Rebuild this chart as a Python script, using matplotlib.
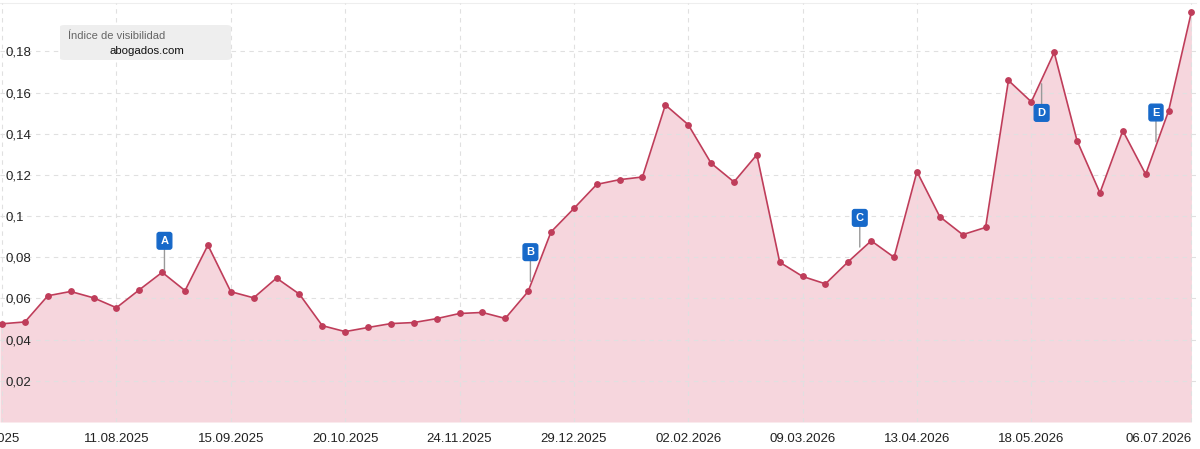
import matplotlib.pyplot as plt
import matplotlib.dates as mdates
from matplotlib.patches import FancyBboxPatch
from matplotlib.transforms import ScaledTranslation
import numpy as np
import datetime as dt

# Índice de visibilidad semanal, abogados.com
inicio = dt.date(2025, 7, 7)
fechas = [inicio + dt.timedelta(weeks=i) for i in range(53)]
valores = [0.0477, 0.0486, 0.0613, 0.0634, 0.0603, 0.0555, 0.0642, 0.0727, 0.0638, 0.0859,
           0.0633, 0.0603, 0.0699, 0.0621, 0.0468, 0.0439, 0.0459, 0.0478, 0.0483, 0.0502,
           0.0527, 0.0532, 0.0503, 0.0634, 0.0923, 0.1037, 0.1154, 0.1177, 0.1190, 0.1540,
           0.1444, 0.1257, 0.1166, 0.1298, 0.0776, 0.0707, 0.0671, 0.0779, 0.0880, 0.0800,
           0.1216, 0.0997, 0.0910, 0.0945, 0.1659, 0.1555, 0.1795, 0.1366, 0.1113, 0.1415,
           0.1203, 0.1510, 0.1992]

# eventos (letra, semana, arriba/abajo)
eventos = [('A', 7.1, 1), ('B', 23.1, 1), ('C', 37.5, 1), ('D', 45.45, -1), ('E', 50.45, 1)]

ticks_x = ['07.07.2025', '11.08.2025', '15.09.2025', '20.10.2025', '24.11.2025', '29.12.2025',
           '02.02.2026', '09.03.2026', '13.04.2026', '18.05.2026', '06.07.2026']
ticks_y = [0.02, 0.04, 0.06, 0.08, 0.1, 0.12, 0.14, 0.16, 0.18]

rojo = '#bf3d5a'
rosa = '#f6d6dd'
azul = '#1769c9'

plt.rcParams['font.family'] = ['Liberation Sans', 'DejaVu Sans']

fig = plt.figure(figsize=(12, 4.49), dpi=100)
ax = fig.add_axes([0, 27 / 449, 1196 / 1200, (449 - 30) / 449])

x = mdates.date2num(fechas)
paso = x[1] - x[0]
# el área arranca en el borde izquierdo
xa = np.concatenate([[x[0] - 0.09 * paso], x])
va = np.concatenate([[valores[0]], valores])
ax.fill_between(xa, va, 0, color=rosa, lw=0, zorder=1)
ax.plot(x, valores, color=rojo, lw=1.2, marker='o', ms=3.9, zorder=3)

ax.set_xlim(x[0] - 0.09 * paso, x[-1] + 0.2 * paso)
ax.set_ylim(0, 0.2035)

# eventos
for letra, semana, lado in eventos:
    xe = x[0] + semana * paso
    ye = np.interp(xe, x, valores)
    off = 24 if lado > 0 else -24
    ax.annotate(letra, (xe, ye), xytext=(0, off), textcoords='offset points',
                ha='center', va='center', color='white', fontsize=8, fontweight='bold',
                bbox=dict(boxstyle='round,pad=0.3,rounding_size=0.2', fc=azul, ec=azul),
                arrowprops=dict(arrowstyle='-', color='#999999', lw=1, shrinkA=0, shrinkB=3),
                zorder=5)

# ejes
xt = [mdates.date2num(dt.datetime.strptime(t, '%d.%m.%Y')) for t in ticks_x]
ax.set_xticks(xt)
ax.set_xticklabels(ticks_x)
ax.set_yticks(ticks_y)
ax.set_yticklabels([('%g' % v).replace('.', ',') for v in ticks_y])
ax.tick_params(axis='both', length=0, labelsize=9.5, colors='#222222')
ax.tick_params(axis='x', pad=8)
ax.tick_params(axis='y', pad=-4)
for lbl in ax.get_yticklabels():
    lbl.set_horizontalalignment('left')
    lbl.set_zorder(6)
xl = ax.get_xticklabels()
xl[0].set_transform(xl[0].get_transform() + ScaledTranslation(-0.15, 0, fig.dpi_scale_trans))
xl[-1].set_horizontalalignment('right')

ax.grid(True, linestyle=(0, (4, 4)), color='#e0e0e0', lw=0.8, zorder=2)
ax.set_axisbelow(False)
for s in ['left', 'right', 'bottom']:
    ax.spines[s].set_visible(False)
ax.spines['top'].set_color('#eeeeee')

# leyenda
caja = FancyBboxPatch((60 / 1200, 1 - 60 / 449), 171 / 1200, 35 / 449,
                      boxstyle='round,pad=0,rounding_size=0.004', transform=fig.transFigure,
                      fc='#eeeeee', ec='none', zorder=10)
fig.patches.append(caja)
fig.text(68 / 1200, 1 - 36 / 449, 'Índice de visibilidad', fontsize=8, color='#666666',
         va='center', ha='left', zorder=11)
fig.text(147 / 1200, 1 - 51 / 449, 'abogados.com', fontsize=8.2, color='#111111',
         va='center', ha='center', zorder=11)

fig.savefig('out.png', dpi=100)
